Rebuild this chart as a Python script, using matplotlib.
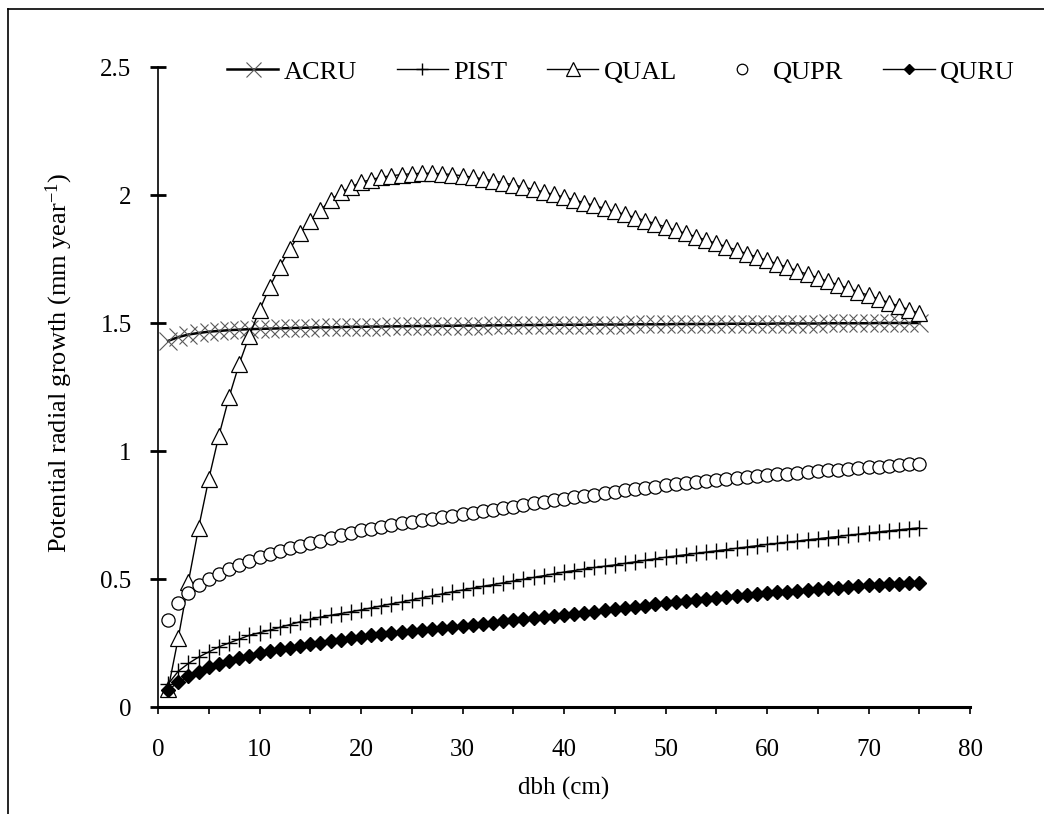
import numpy as np
import matplotlib
matplotlib.use("Agg")
import matplotlib.pyplot as plt
from matplotlib.lines import Line2D
from matplotlib.ticker import MultipleLocator

plt.rcParams["font.family"] = ["Liberation Serif", "DejaVu Serif"]
plt.rcParams["mathtext.fontset"] = "custom"
plt.rcParams["mathtext.rm"] = "Liberation Serif"
plt.rcParams["mathtext.default"] = "regular"

# dbh classes (cm)
dbh = np.arange(1, 76)

acru = [1.430, 1.445, 1.455, 1.461, 1.466, 1.469, 1.472, 1.474, 1.476, 1.477,
        1.478, 1.479, 1.480, 1.481, 1.482, 1.483, 1.483, 1.484, 1.485, 1.485,
        1.486, 1.486, 1.487, 1.487, 1.488, 1.488, 1.488, 1.489, 1.489, 1.490,
        1.490, 1.490, 1.491, 1.491, 1.491, 1.492, 1.492, 1.492, 1.493, 1.493,
        1.493, 1.493, 1.494, 1.494, 1.494, 1.494, 1.495, 1.495, 1.495, 1.495,
        1.496, 1.496, 1.496, 1.496, 1.496, 1.497, 1.497, 1.497, 1.497, 1.497,
        1.498, 1.498, 1.498, 1.498, 1.498, 1.499, 1.499, 1.499, 1.499, 1.499,
        1.500, 1.500, 1.500, 1.500, 1.500]

pist = [0.090, 0.140, 0.170, 0.195, 0.215, 0.235, 0.250, 0.265, 0.280, 0.290,
        0.300, 0.311, 0.322, 0.333, 0.343, 0.351, 0.358, 0.365, 0.372, 0.379,
        0.387, 0.395, 0.403, 0.410, 0.418, 0.426, 0.434, 0.442, 0.450, 0.457,
        0.464, 0.471, 0.478, 0.485, 0.492, 0.499, 0.506, 0.513, 0.520, 0.527,
        0.533, 0.539, 0.545, 0.550, 0.555, 0.561, 0.567, 0.573, 0.579, 0.585,
        0.590, 0.595, 0.600, 0.605, 0.610, 0.615, 0.620, 0.625, 0.630, 0.635,
        0.639, 0.644, 0.648, 0.653, 0.657, 0.662, 0.666, 0.671, 0.675, 0.680,
        0.684, 0.688, 0.692, 0.696, 0.700]

qual = [0.07, 0.27, 0.49, 0.70, 0.89, 1.06, 1.21, 1.34, 1.45, 1.55,
        1.64, 1.72, 1.79, 1.85, 1.90, 1.94, 1.98, 2.01, 2.03, 2.05,
        2.060, 2.070, 2.075, 2.080, 2.083, 2.085, 2.085, 2.083, 2.080, 2.075,
        2.070, 2.063, 2.056, 2.048, 2.040, 2.031, 2.022, 2.012, 2.002, 1.992,
        1.981, 1.970, 1.959, 1.948, 1.936, 1.924, 1.912, 1.900, 1.888, 1.875,
        1.862, 1.850, 1.837, 1.824, 1.811, 1.798, 1.785, 1.771, 1.758, 1.745,
        1.731, 1.718, 1.704, 1.690, 1.677, 1.663, 1.649, 1.636, 1.622, 1.608,
        1.594, 1.580, 1.566, 1.552, 1.538]

qupr = [0.340, 0.405, 0.445, 0.475, 0.500, 0.520, 0.540, 0.555, 0.570, 0.585,
        0.597, 0.609, 0.620, 0.630, 0.640, 0.650, 0.660, 0.670, 0.680, 0.690,
        0.697, 0.704, 0.711, 0.717, 0.723, 0.729, 0.735, 0.741, 0.747, 0.753,
        0.759, 0.765, 0.771, 0.777, 0.783, 0.789, 0.795, 0.801, 0.807, 0.813,
        0.819, 0.825, 0.830, 0.836, 0.841, 0.846, 0.851, 0.856, 0.861, 0.866,
        0.870, 0.874, 0.878, 0.882, 0.886, 0.890, 0.894, 0.898, 0.902, 0.906,
        0.909, 0.912, 0.915, 0.918, 0.921, 0.924, 0.927, 0.930, 0.933, 0.936,
        0.939, 0.942, 0.945, 0.948, 0.951]

quru = [0.066, 0.097, 0.120, 0.137, 0.155, 0.168, 0.180, 0.191, 0.201, 0.210,
        0.218, 0.225, 0.232, 0.239, 0.245, 0.251, 0.257, 0.263, 0.269, 0.275,
        0.280, 0.284, 0.288, 0.293, 0.297, 0.301, 0.305, 0.310, 0.314, 0.318,
        0.322, 0.326, 0.330, 0.334, 0.338, 0.342, 0.346, 0.350, 0.354, 0.358,
        0.363, 0.367, 0.372, 0.377, 0.382, 0.387, 0.392, 0.396, 0.401, 0.405,
        0.409, 0.413, 0.417, 0.421, 0.425, 0.429, 0.433, 0.437, 0.441, 0.445,
        0.448, 0.451, 0.454, 0.457, 0.460, 0.463, 0.466, 0.469, 0.472, 0.475,
        0.477, 0.479, 0.481, 0.483, 0.485]

fig = plt.figure(figsize=(10.44, 8.14), dpi=100)
ax = fig.add_axes([158/1044, 107/814, 812/1044, 640/814])

# outer frame of the original figure
fig.add_artist(Line2D([8/1044, 8/1044], [0, 1 - 9/814], color="k", lw=1.2))
fig.add_artist(Line2D([8/1044, 1], [1 - 9/814, 1 - 9/814], color="k", lw=1.2))

ax.plot(dbh, acru, color="k", lw=1.8, marker="x", ms=13.5, mew=0.8, mec="0.35")
ax.plot(dbh, pist, color="k", lw=1.0, marker="+", ms=11, mew=1.0)
ax.plot(dbh, qual, color="k", lw=1.0, marker="^", ms=12, mfc="white", mew=0.9)
ax.plot(dbh, qupr, ls="none", marker="o", ms=9.5, mfc="white", mec="k", mew=0.9)
ax.plot(dbh, quru, color="k", lw=1.0, marker="D", ms=7, mfc="k", mec="k")

ax.set_xlim(0, 80)
ax.set_ylim(0, 2.5)
ax.xaxis.set_major_locator(MultipleLocator(10))
ax.xaxis.set_minor_locator(MultipleLocator(5))
ax.set_yticks([0, 0.5, 1, 1.5, 2, 2.5])
ax.set_yticklabels(["0", "0.5", "1", "1.5", "2", "2.5"])
for s in ["top", "right"]:
    ax.spines[s].set_visible(False)
ax.spines["left"].set_linewidth(1.2)
ax.spines["bottom"].set_linewidth(2.2)
ax.tick_params(axis="x", which="both", direction="out", length=5, width=1.2,
               labelsize=18, pad=18)
ax.tick_params(axis="y", direction="inout", length=12, width=2, labelsize=18, pad=13)

ax.set_xlabel("dbh (cm)", fontsize=18)
ax.xaxis.set_label_coords(0.5, -0.11)
ax.set_ylabel("Potential radial growth (mm year$^{-1}$)", fontsize=19)
ax.yaxis.set_label_coords(-0.102, 0.5375)

handles = ax.get_lines()
fig.legend(handles, ["ACRU", "PIST", "QUAL", "QUPR", "QURU"], ncol=5,
           loc="center left", bbox_to_anchor=(227/1044, 1 - 72/814),
           frameon=False, fontsize=19, borderpad=0, borderaxespad=0,
           handlelength=1.95, handletextpad=0.2, columnspacing=1.5,
           markerscale=0.8)

fig.savefig("out.png", dpi=100)
